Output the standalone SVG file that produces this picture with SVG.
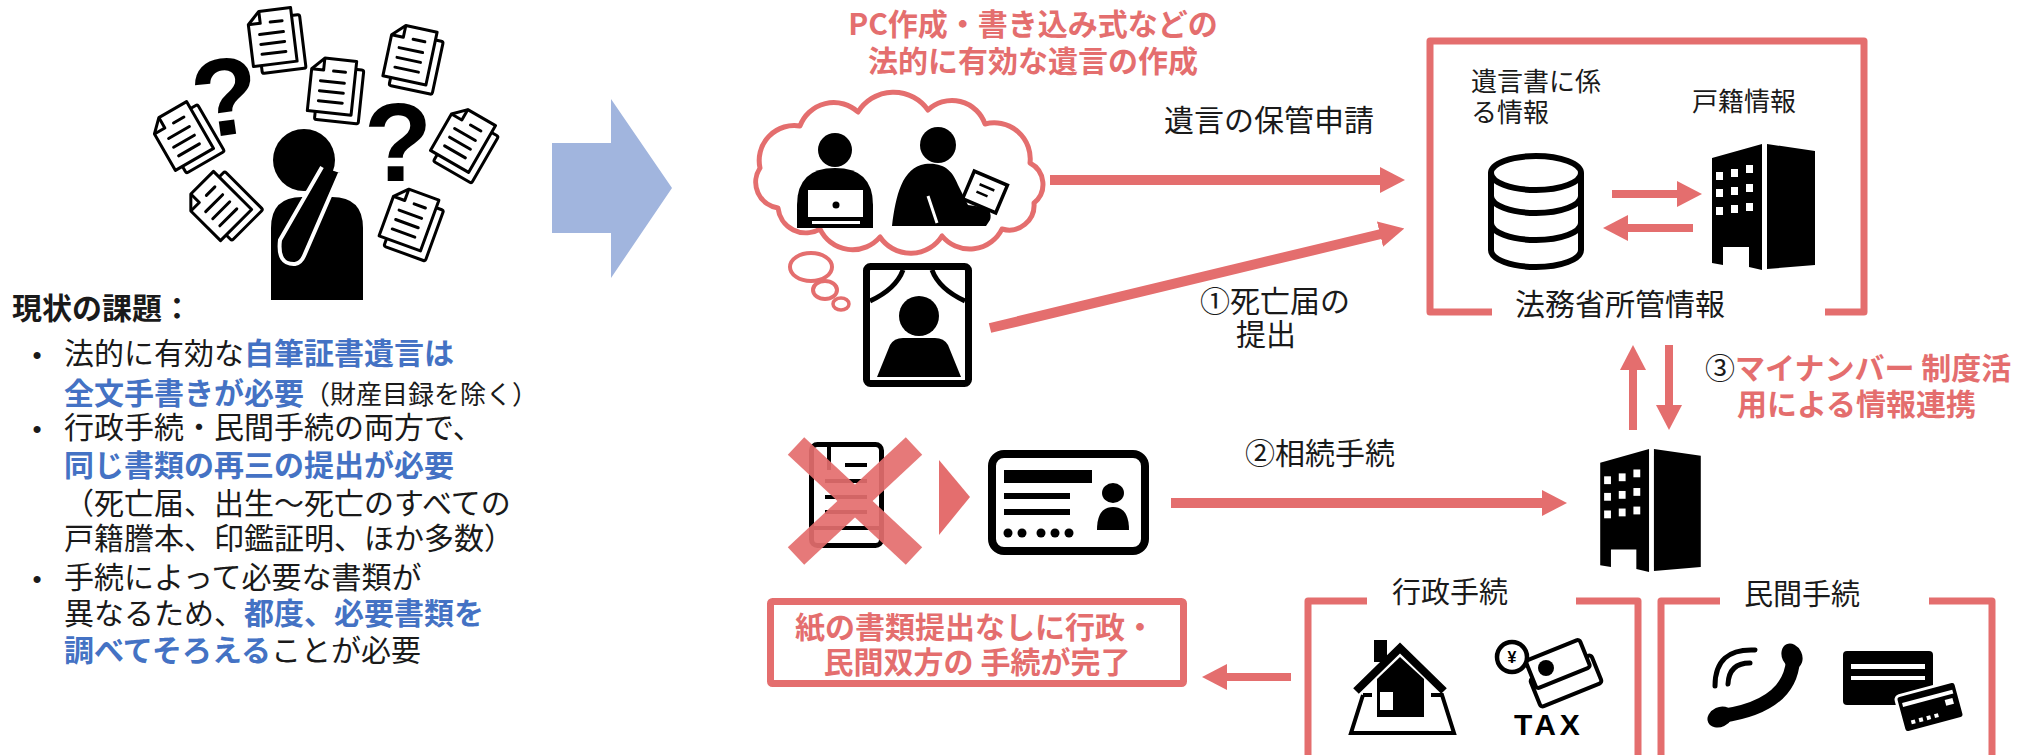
<svg xmlns="http://www.w3.org/2000/svg" xmlns:xlink="http://www.w3.org/1999/xlink" width="2042" height="755" viewBox="0 0 2042 755">
  <defs>
    <style>
      .t { font-family: "Noto Sans CJK JP", "Liberation Sans", sans-serif; fill: #1a1a1a; }
      .b { font-weight: 700; }
      .blue { fill: #4472C4; font-weight: 700; }
      .pk { fill: #E46E6E; font-weight: 700; }
      .frame { fill: none; stroke: #E46E6E; stroke-width: 7; stroke-linejoin: round; }
      .shaft { stroke: #E46E6E; fill: none; }
      .ink { fill: #000; }
      .q { font-family: "Liberation Sans", sans-serif; font-weight: 700; fill: #000; text-anchor: middle; }
    </style>
    <marker id="head" viewBox="0 0 25 26" markerWidth="25" markerHeight="26" refX="1" refY="13" markerUnits="userSpaceOnUse" orient="auto">
      <path d="M0 0 L25 13 L0 26 Z" fill="#E46E6E"/>
    </marker>
    <!-- paper sheet with a second sheet behind -->
    <g id="doc" fill="#fff" stroke="#000" stroke-width="3" stroke-linejoin="round">
      <rect x="-14" y="-19" width="44" height="54" rx="2"/>
      <path d="M-10 -27 H22 V27 H-22 V-15 Z"/>
      <path d="M-22 -15 H-10 V-27" fill="none"/>
      <path d="M0 -15 H12 M-12 -4 H12 M-12 6 H12 M-12 16 H12" fill="none" stroke-linecap="round"/>
    </g>
    <!-- office building -->
    <symbol id="bldg" viewBox="0 0 107 127">
      <path d="M2 15 L52 1 L52 127 L39 124 L39 104 L13 104 L13 122 L2 120 Z" fill="#000"/>
      <path d="M57 1 L105 8 L105 122 L57 126 Z" fill="#000"/>
      <g fill="#fff">
        <rect x="6" y="29" width="7" height="8"/>
        <rect x="6" y="46" width="7" height="8"/>
        <rect x="6" y="64" width="7" height="8"/>
        <rect x="21" y="26" width="7" height="8"/>
        <rect x="21" y="44" width="7" height="8"/>
        <rect x="21" y="62" width="7" height="8"/>
        <rect x="36" y="22" width="7" height="8"/>
        <rect x="36" y="41" width="7" height="8"/>
        <rect x="36" y="60" width="7" height="8"/>
      </g>
    </symbol>
  </defs>

  <rect width="2042" height="755" fill="#fff"/>

  <!-- worried person surrounded by paperwork -->
  <g id="worried-person">
    <use href="#doc" transform="translate(272,37) rotate(-7)"/>
    <use href="#doc" transform="translate(410,54) rotate(12)"/>
    <use href="#doc" transform="translate(332,86) rotate(6)"/>
    <use href="#doc" transform="translate(181,136) rotate(-30)"/>
    <use href="#doc" transform="translate(463,138) rotate(30)"/>
    <use href="#doc" transform="translate(217,206) rotate(-45)"/>
    <use href="#doc" transform="translate(409,218) rotate(20)"/>
    <text class="q" x="226" y="135" transform="rotate(-8 226 100)" font-size="110">?</text>
    <text class="q" x="398" y="181" font-size="112">?</text>
    <circle cx="304" cy="160" r="31" class="ink"/>
    <path d="M271 300 L271 228 Q271 197 302 197 L332 197 Q363 197 363 228 L363 300 Z" class="ink"/>
    <path d="M322 167 L280 240 Q277 265 295 264 Q301 263 304 256 L340 173" fill="#000" stroke="#fff" stroke-width="4" stroke-linejoin="round"/>
  </g>

  <!-- current issues -->
  <g id="issues">
    <text class="t b" x="12" y="319" font-size="30">現状の課題：</text>
    <g font-family="Liberation Sans, sans-serif" font-size="26" fill="#1a1a1a" text-anchor="middle">
      <text x="37" y="364">•</text>
      <text x="37" y="438">•</text>
      <text x="37" y="588">•</text>
    </g>
    <g font-size="30">
      <text class="t" x="64" y="364">法的に有効な<tspan class="blue">自筆証書遺言は</tspan></text>
      <text class="t" x="64" y="404"><tspan class="blue">全文手書きが必要</tspan><tspan font-size="26">（財産目録を除く）</tspan></text>
      <text class="t" x="64" y="438">行政手続・民間手続の両方で、</text>
      <text class="t blue" x="64" y="476">同じ書類の再三の提出が必要</text>
      <text class="t" x="64" y="514">（死亡届、出生～死亡のすべての</text>
      <text class="t" x="64" y="549">戸籍謄本、印鑑証明、ほか多数）</text>
      <text class="t" x="64" y="588">手続によって必要な書類が</text>
      <text class="t" x="64" y="624">異なるため、<tspan class="blue">都度、必要書類を</tspan></text>
      <text class="t" x="64" y="661"><tspan class="blue">調べてそろえる</tspan>ことが必要</text>
    </g>
  </g>

  <!-- transition arrow -->
  <g id="big-arrow">
    <path d="M552 143 L611 143 L611 99 L672 188 L611 278 L611 233 L552 233 Z" fill="#A1B5DE"/>
  </g>

  <!-- will creation -->
  <g id="will-creation">
    <text class="t pk" x="1033" y="35" font-size="30" text-anchor="middle">PC作成・書き込み式などの</text>
    <text class="t pk" x="1033" y="72" font-size="30" text-anchor="middle">法的に有効な遺言の作成</text>
    <path d="M760 168 A35 35 0 0 1 800 126 A36 36 0 0 1 858 112 A42 42 0 0 1 928 110 A35 35 0 0 1 985 124 A36 36 0 0 1 1030 163 A24 24 0 0 1 1034 203 A25 25 0 0 1 1002 229 A36 36 0 0 1 942 236 A37 37 0 0 1 880 237 A36 36 0 0 1 820 229 A28 28 0 0 1 778 208 A26 26 0 0 1 760 168 Z" fill="#fff" stroke="#E46E6E" stroke-width="5" stroke-linejoin="round"/>
    <ellipse cx="811" cy="267" rx="21" ry="14" fill="#fff" stroke="#E46E6E" stroke-width="4"/>
    <ellipse cx="825" cy="290" rx="12" ry="9" fill="#fff" stroke="#E46E6E" stroke-width="4"/>
    <ellipse cx="841" cy="304" rx="8" ry="6" fill="#fff" stroke="#E46E6E" stroke-width="3.5"/>
    <!-- person at laptop -->
    <circle cx="835" cy="150" r="17" class="ink"/>
    <path d="M797 228 L797 205 Q797 168 835 168 Q873 168 873 205 L873 228 Z" class="ink"/>
    <rect x="808" y="190" width="55" height="27" fill="#fff"/>
    <circle cx="836" cy="205" r="3.5" class="ink"/>
    <rect x="812" y="221" width="48" height="3" fill="#fff"/>
    <!-- person writing -->
    <circle cx="938" cy="145" r="18" class="ink"/>
    <path d="M892 226 C896 195 902 168 925 164 C945 162 953 172 958 185 L968 205 L982 207 Q993 210 990 220 L986 226 Z" class="ink"/>
    <path d="M928 196 L937 223" stroke="#fff" stroke-width="3"/>
    <g transform="translate(985,192) rotate(23)">
      <rect x="-18" y="-15" width="36" height="30" fill="#fff" stroke="#000" stroke-width="3.5"/>
      <path d="M-8 -5 H8 M-8 3 H4" stroke="#000" stroke-width="2.5"/>
    </g>
    <circle cx="985" cy="213" r="5" class="ink"/>
  </g>

  <!-- memorial portrait -->
  <g id="portrait">
    <rect x="866.5" y="266.5" width="102" height="117" rx="4" fill="#fff" stroke="#000" stroke-width="7"/>
    <path d="M870 301 Q896 289 903 270 M965 301 Q939 289 932 270" fill="none" stroke="#000" stroke-width="5"/>
    <circle cx="919" cy="316" r="20" class="ink"/>
    <path d="M877 377 L890 345 Q894 338 903 338 L935 338 Q944 338 948 345 L961 377 Z" class="ink"/>
  </g>

  <!-- paper form replaced by ID card -->
  <g id="paper-to-card">
    <rect x="811.5" y="444.5" width="70" height="101" rx="6" fill="#fff" stroke="#000" stroke-width="5"/>
    <path d="M829 445 V470 M845 465 H867 M825 481 H867 M825 497 H867 M825 512 H867 M812 528 H881" stroke="#000" stroke-width="4" fill="none"/>
    <g stroke="#E46E6E" stroke-width="24" opacity="0.92">
      <path d="M796 446 L914 556"/>
      <path d="M914 446 L796 556"/>
    </g>
    <path d="M939 460 L970 497 L939 535 Z" fill="#E46E6E"/>
    <rect x="992" y="454" width="153" height="97" rx="12" fill="#fff" stroke="#000" stroke-width="8"/>
    <rect x="1004" y="470" width="88" height="13" class="ink"/>
    <rect x="1004" y="493" width="66" height="6" class="ink"/>
    <rect x="1004" y="509" width="66" height="6" class="ink"/>
    <g class="ink">
      <circle cx="1008" cy="533" r="4.5"/>
      <circle cx="1022" cy="533" r="4.5"/>
      <circle cx="1041" cy="533" r="4.5"/>
      <circle cx="1055" cy="533" r="4.5"/>
      <circle cx="1069" cy="533" r="4.5"/>
      <ellipse cx="1113" cy="493" rx="11" ry="10"/>
      <path d="M1097 530 Q1097 507 1113 507 Q1129 507 1129 530 Z"/>
    </g>
  </g>

  <!-- Ministry of Justice data -->
  <g id="moj-info">
    <path class="frame" d="M1492 312 L1430 312 L1430 41 L1864 41 L1864 312 L1825 312" stroke-width="8"/>
    <text class="t" x="1471" y="91" font-size="26">遺言書に係</text>
    <text class="t" x="1471" y="122" font-size="26">る情報</text>
    <text class="t" x="1692" y="111" font-size="26">戸籍情報</text>
    <text class="t" x="1515" y="315" font-size="30">法務省所管情報</text>
    <g fill="#fff" stroke="#000" stroke-width="6">
      <path d="M1491 173 L1491 250 A45 17 0 0 0 1581 250 L1581 173"/>
      <ellipse cx="1536" cy="173" rx="45" ry="17"/>
      <path d="M1491 196 A45 17 0 0 0 1581 196 M1491 223 A45 17 0 0 0 1581 223" fill="none"/>
    </g>
    <use href="#bldg" x="1710" y="143" width="107" height="127"/>
  </g>

  <!-- municipal office -->
  <g id="office">
    <use href="#bldg" x="1598" y="448" width="105" height="124"/>
  </g>

  <!-- administrative procedures -->
  <g id="admin-procedures">
    <path class="frame" d="M1367 601 L1308 601 L1308 760 M1576 601 L1638 601 L1638 760"/>
    <text class="t" x="1392" y="603" font-size="29">行政手続</text>
    <!-- house on a plot -->
    <path d="M1363 695 H1372 M1363 695 L1351 733 H1454 L1442 695 H1431" fill="none" stroke="#000" stroke-width="4" stroke-linejoin="miter"/>
    <rect x="1374" y="640" width="13" height="22" class="ink"/>
    <path d="M1377 717 L1377 679 L1400 657 L1424 679 L1424 717 Z" class="ink"/>
    <path d="M1356 691 L1400 648 L1444 691" fill="none" stroke="#000" stroke-width="8"/>
    <rect x="1380" y="692" width="13" height="18" fill="#fff"/>
    <!-- money and tax -->
    <g transform="translate(1566,681) rotate(-22)">
      <rect x="-33" y="-15" width="66" height="30" rx="3" fill="#fff" stroke="#000" stroke-width="4"/>
    </g>
    <g transform="translate(1558,664) rotate(-22)">
      <rect x="-29" y="-15" width="58" height="30" rx="3" fill="#fff" stroke="#000" stroke-width="4"/>
    </g>
    <circle cx="1546" cy="668" r="8" class="ink"/>
    <circle cx="1512" cy="657" r="15" fill="#fff" stroke="#000" stroke-width="4.5"/>
    <text x="1512" y="663" font-family="Liberation Sans, sans-serif" font-weight="700" font-size="16" text-anchor="middle" fill="#000">¥</text>
    <text x="1549" y="735" font-family="Liberation Sans, sans-serif" font-weight="700" font-size="30" letter-spacing="4" text-anchor="middle" fill="#000">TAX</text>
  </g>

  <!-- private procedures -->
  <g id="private-procedures">
    <path class="frame" d="M1720 601 L1661 601 L1661 760 M1929 601 L1992 601 L1992 760"/>
    <text class="t" x="1744" y="605" font-size="29">民間手続</text>
    <!-- telephone handset with sound waves -->
    <path d="M1793 660 Q1790 706 1722 716" fill="none" stroke="#000" stroke-width="14" stroke-linecap="round"/>
    <ellipse cx="1792" cy="656" rx="10" ry="13" transform="rotate(-25 1792 656)" class="ink"/>
    <ellipse cx="1720" cy="717" rx="13" ry="10" transform="rotate(-25 1720 717)" class="ink"/>
    <path d="M1715 686 Q1715 648 1755 650 M1728 684 Q1729 663 1750 663" fill="none" stroke="#000" stroke-width="5" stroke-linecap="round"/>
    <!-- bank card and credit card -->
    <rect x="1843" y="651" width="90" height="54" rx="4" class="ink"/>
    <rect x="1851" y="664" width="74" height="5" fill="#fff"/>
    <rect x="1851" y="676" width="74" height="4" fill="#fff"/>
    <g transform="translate(1930,707) rotate(-15)">
      <rect x="-31" y="-19" width="62" height="38" rx="4" fill="#000" stroke="#fff" stroke-width="3"/>
      <rect x="-26" y="-11" width="52" height="4" fill="#fff"/>
      <rect x="16" y="-3" width="8" height="6" fill="#fff"/>
      <g fill="#fff">
        <rect x="-22" y="8" width="4" height="4"/>
        <rect x="-14" y="8" width="4" height="4"/>
        <rect x="-6" y="8" width="4" height="4"/>
        <rect x="2" y="8" width="4" height="4"/>
      </g>
    </g>
  </g>

  <!-- outcome -->
  <g id="outcome">
    <rect x="770.5" y="601.5" width="413" height="82" rx="2" fill="#fff" stroke="#E46E6E" stroke-width="7"/>
    <text class="t pk" x="975" y="638" font-size="30" text-anchor="middle">紙の書類提出なしに行政・</text>
    <text class="t pk" x="977" y="673" font-size="30" text-anchor="middle">民間双方の 手続が完了</text>
  </g>

  <!-- connectors -->
  <g id="connectors" class="shaft">
    <path d="M1050 180 L1381 180" stroke-width="10" marker-end="url(#head)"/>
    <path d="M990 328 L1381 234" stroke-width="10" marker-end="url(#head)"/>
    <path d="M1612 194 L1678 194" stroke-width="8" marker-end="url(#head)"/>
    <path d="M1693 228 L1627 228" stroke-width="8" marker-end="url(#head)"/>
    <path d="M1633 430 L1633 369" stroke-width="8" marker-end="url(#head)"/>
    <path d="M1669 345 L1669 406" stroke-width="8" marker-end="url(#head)"/>
    <path d="M1171 503 L1543 503" stroke-width="10" marker-end="url(#head)"/>
    <path d="M1291 677 L1226 677" stroke-width="8" marker-end="url(#head)"/>
  </g>

  <!-- connector labels -->
  <g id="connector-labels">
    <text class="t" x="1164" y="131" font-size="30">遺言の保管申請</text>
    <text class="t" x="1200" y="312" font-size="30">①死亡届の</text>
    <text class="t" x="1236" y="345" font-size="30">提出</text>
    <text class="t" x="1245" y="464" font-size="30">②相続手続</text>
    <text class="t" x="1705" y="379" font-size="30">③<tspan class="pk">マイナンバー 制度活</tspan></text>
    <text class="t pk" x="1737" y="415" font-size="30">用による情報連携</text>
  </g>
</svg>
